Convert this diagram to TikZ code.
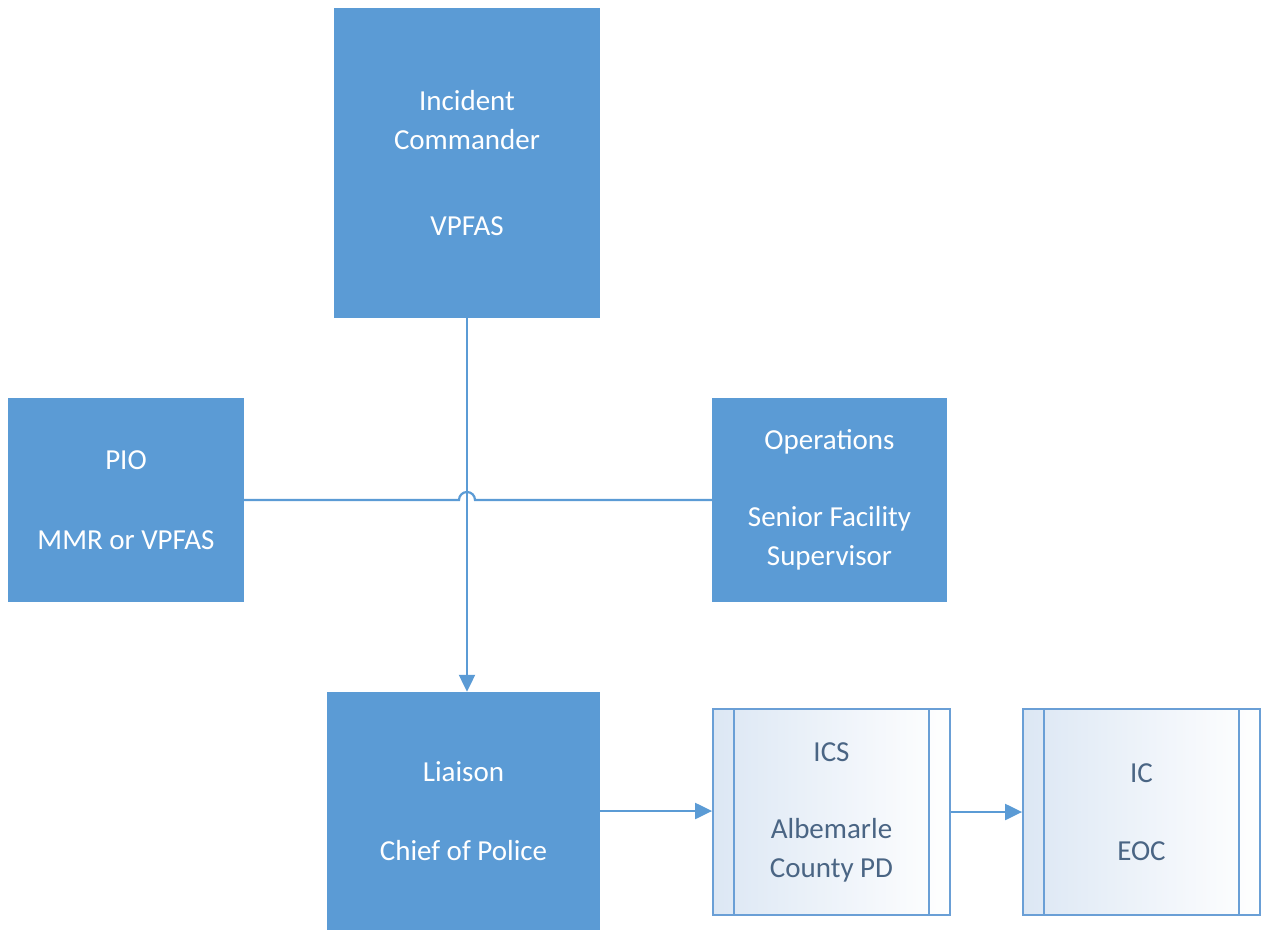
\documentclass[tikz,border=0pt]{standalone}
\usepackage{fontspec}
\setmainfont{Carlito}
\usetikzlibrary{arrows.meta,calc}
\definecolor{boxblue}{HTML}{5B9BD5}
\definecolor{lineblue}{HTML}{5B9BD5}
\definecolor{ppborder}{HTML}{6A9FD6}
\definecolor{pptext}{HTML}{4A6584}
\definecolor{ppfill}{HTML}{DCE7F4}
\tikzset{
  solidbox/.style={rectangle, fill=boxblue, draw=none, text=white, inner sep=0pt,
    align=center, font=\fontsize{29}{39}\selectfont},
  ppbox/.style={rectangle, draw=ppborder, line width=1.8pt, left color=ppfill, right color=white,
    text=pptext, inner sep=0pt, align=center, font=\fontsize{29}{39}\selectfont},
  conn/.style={draw=lineblue, line width=2.2pt},
  arr/.style={conn, -{Triangle[length=17pt,width=16pt]}},
}
\begin{document}
\begin{tikzpicture}[x=1pt,y=1pt]
\useasboundingbox (0,0) rectangle (1262,-934);
\node[solidbox, minimum width=266pt, minimum height=310pt] (ic) at (467,-163)
  {Incident\\Commander\\[47pt]VPFAS};
\node[solidbox, minimum width=236pt, minimum height=204pt] (pio) at (126,-500)
  {PIO\\[41pt]MMR or VPFAS};
\node[solidbox, minimum width=235pt, minimum height=204pt] (ops) at (829.5,-500)
  {Operations\\[38pt]Senior Facility\\Supervisor};
\node[solidbox, minimum width=273pt, minimum height=238pt] (liaison) at (463.5,-811)
  {Liaison\\[40pt]Chief of Police};
\node[ppbox, minimum width=237pt, minimum height=206pt] (ics) at (831.5,-812)
  {ICS\\[38pt]Albemarle\\County PD};
\node[ppbox, minimum width=237pt, minimum height=206pt] (eoc) at (1141.5,-812)
  {IC\\[39pt]EOC};
\foreach \n in {ics,eoc}{
  \draw[draw=ppborder, line width=1.8pt] ([xshift=22pt]\n.north west) -- ([xshift=22pt]\n.south west);
  \draw[draw=ppborder, line width=1.8pt] ([xshift=-22pt]\n.north east) -- ([xshift=-22pt]\n.south east);
}
\coordinate (cross) at (ic.south |- pio.east);
\draw[conn] (pio.east) -- ($(cross)+(-8,0)$) arc[start angle=180, end angle=0, radius=8pt] -- (ops.west);
\draw[arr] (ic.south) -- (ic.south |- liaison.north);
\draw[arr] (liaison.east) -- (liaison.east -| ics.west);
\draw[arr] (ics.east) -- (eoc.west);
\end{tikzpicture}
\end{document}
